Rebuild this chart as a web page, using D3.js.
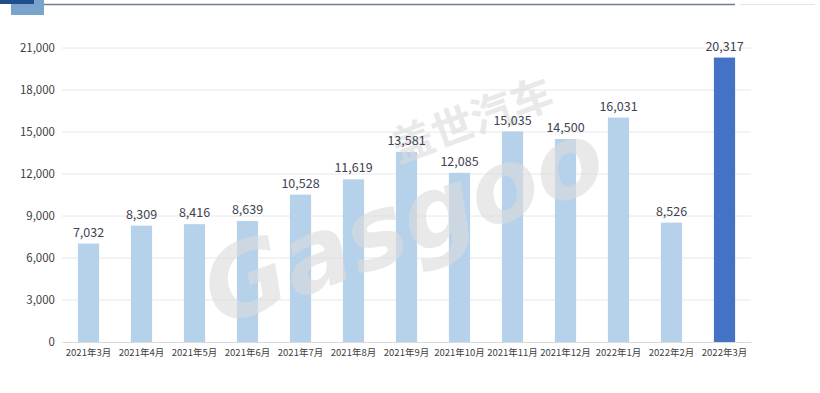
<!DOCTYPE html>
<html>
<head>
<meta charset="utf-8">
<script src="https://d3js.org/d3.v7.min.js"></script>
<style>
  body { margin: 0; background: #fff; }
  svg { font-family: "Noto Sans CJK SC", "Noto Sans", sans-serif; }
</style>
</head>
<body>
<svg width="820" height="393"></svg>
<script>
// monthly values
var months = ["2021年3月","2021年4月","2021年5月","2021年6月","2021年7月","2021年8月","2021年9月",
              "2021年10月","2021年11月","2021年12月","2022年1月","2022年2月","2022年3月"];
var sales = [7032, 8309, 8416, 8639, 10528, 11619, 13581, 12085, 15035, 14500, 16031, 8526, 20317];
var yTicks = [0, 3000, 6000, 9000, 12000, 15000, 18000, 21000];

var svg = d3.select("svg");
var plotLeft = 62, plotRight = 751, plotTop = 48, plotBottom = 342;

// header decoration
svg.append("rect").attr("x", 11).attr("y", 0).attr("width", 33).attr("height", 15).attr("fill", "#7aa3cc");
svg.append("rect").attr("x", 0).attr("y", 0).attr("width", 34).attr("height", 4).attr("fill", "#1f4e8c");
svg.append("line").attr("x1", 44).attr("x2", 735).attr("y1", 4.5).attr("y2", 4.5)
  .attr("stroke", "#6f7f8e").attr("stroke-width", 1.5);
svg.append("line").attr("x1", 740).attr("x2", 815).attr("y1", 4.5).attr("y2", 4.5)
  .attr("stroke", "#e4e4e4").attr("stroke-width", 1);

var x = d3.scaleBand().domain(months).range([plotLeft, plotRight]).paddingInner(0.6).paddingOuter(0.3);
var y = d3.scaleLinear().domain([0, 21000]).range([plotBottom, plotTop]);

// gridlines
svg.append("g").selectAll("line").data(yTicks.slice(1)).enter().append("line")
  .attr("x1", plotLeft).attr("x2", plotRight)
  .attr("y1", d => y(d)).attr("y2", d => y(d))
  .attr("stroke", "#e8e8e8").attr("stroke-width", 1);

// y axis
var yAxis = d3.axisLeft(y).tickValues(yTicks).tickSize(0).tickPadding(7).tickFormat(d3.format(","));
var gy = svg.append("g").attr("transform", "translate(" + plotLeft + ",0)").call(yAxis);
gy.select(".domain").remove();
gy.selectAll("text").attr("fill", "#404040").style("font-size", "11.5px")
  .style("font-family", "'Noto Sans CJK SC', sans-serif");

// bars
svg.append("g").selectAll("rect").data(sales).enter().append("rect")
  .attr("x", (d, i) => x(months[i]))
  .attr("y", d => y(d))
  .attr("width", x.bandwidth())
  .attr("height", d => plotBottom - y(d))
  .attr("fill", (d, i) => i == sales.length - 1 ? "#4472c4" : "#b6d1ea");

// watermark
var wm = svg.append("g").attr("transform", "translate(415,255) rotate(-20)")
  .attr("fill", "#dcdcdc").attr("opacity", 0.6);
wm.append("text").attr("text-anchor", "middle")
  .style("font-family", "'DejaVu Sans', sans-serif").style("font-weight", "bold")
  .style("font-style", "italic").style("font-size", "100px").text("Gasgoo");
wm.append("text").attr("x", 100).attr("y", -92).attr("text-anchor", "middle")
  .style("font-size", "42px").style("font-weight", "bold").text("盖世汽车");

// value labels
svg.append("g").selectAll("text").data(sales).enter().append("text")
  .attr("x", (d, i) => x(months[i]) + x.bandwidth() / 2)
  .attr("y", d => y(d) - 7)
  .attr("text-anchor", "middle")
  .attr("fill", "#3d4350")
  .style("font-size", "12.5px")
  .text(d => d3.format(",")(d));

// x axis
var xAxis = d3.axisBottom(x).tickSize(0).tickPadding(7);
var gx = svg.append("g").attr("transform", "translate(0," + plotBottom + ")").call(xAxis);
gx.select(".domain").attr("stroke", "#d9d9d9");
gx.selectAll("text").attr("fill", "#404040").style("font-size", "9.5px")
  .style("font-family", "'Noto Sans CJK SC', sans-serif");
</script>
</body>
</html>
